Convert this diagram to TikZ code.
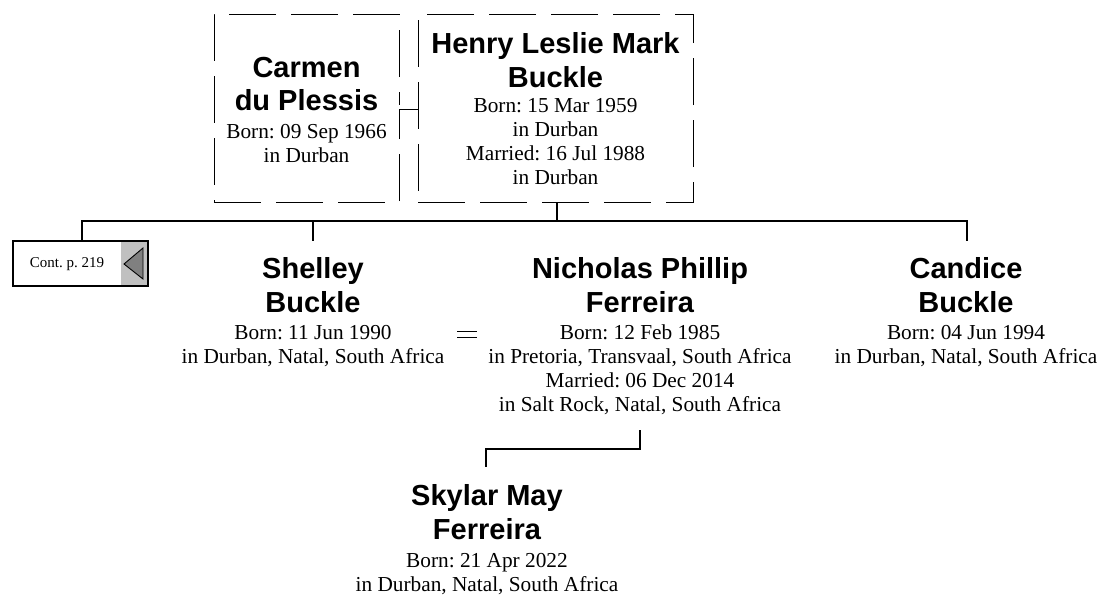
\documentclass[tikz,border=0pt]{standalone}
\usepackage{fontspec}
\setmainfont{Liberation Serif}
\newfontfamily\namesans{Liberation Sans}
\frenchspacing
\newcommand\pname[1]{{\namesans\bfseries\fontsize{29}{34}\selectfont #1}}
\newcommand\pfirst[1]{\rule{0pt}{22pt}\pname{#1}}
\newcommand\personfont{\fontsize{21.3}{24}\selectfont\frenchspacing\lineskiplimit=-1000pt\lineskip=0pt\relax}
\definecolor{contgray}{RGB}{192,192,192}
\definecolor{tridark}{RGB}{128,128,128}
\begin{document}
\begin{tikzpicture}[x=1pt,y=-1pt,
  conn/.style={line width=1.2pt},
  dashbox/.style={draw, line width=0.9pt, dash pattern=on 47pt off 15pt, inner sep=0pt},
  person/.style={align=center, anchor=north, inner sep=0pt, font={\personfont}},
  marriage/.style={double, double distance=3.2pt, line width=0.9pt},
  spouse/.style={double, double distance=4.5pt, line width=1.6pt},
]
\useasboundingbox (0,0) rectangle (1106,595);

% top couple
\node[dashbox, minimum width=185pt, minimum height=188pt] (carmenbox) at (306.5,108) {};
\node[dashbox, minimum width=275pt, minimum height=188pt] (henrybox) at (555.5,108) {};
\node[person] (carmen) at (306.5,55) {\pfirst{Carmen}\\[9pt]\pname{du Plessis}\\[4pt]Born: 09 Sep 1966\\in Durban};
\node[person] (henry) at (555.5,31) {\pfirst{Henry Leslie Mark}\\[10pt]\pname{Buckle}\\[1pt]Born: 15 Mar 1959\\in Durban\\Married: 16 Jul 1988\\in Durban};
\coordinate (mA) at (399.5,107);
\coordinate (mB) at (417.5,107);
\draw[marriage] (carmenbox.east |- mA) -- (henrybox.west |- mB);

% continuation box
\fill[contgray] (121,241) rectangle (148,286);
\node[draw, line width=1.5pt, minimum width=135pt, minimum height=45pt, inner sep=0pt] (cont) at (80.5,263.5) {};
\node[font=\fontsize{15}{18}\selectfont, inner sep=0pt] (contlabel) at (67,264) {Cont. p. 219};
\draw[fill=tridark, line width=0.9pt] (124,264) -- (143,248) -- (143,279) -- cycle;

% children
\node[person] (shelley) at (313,256) {\pfirst{Shelley}\\[10pt]\pname{Buckle}\\[3pt]Born: 11 Jun 1990\\in Durban, Natal, South Africa};
\node[person] (nicholas) at (640,256) {\pfirst{Nicholas Phillip}\\[10pt]\pname{Ferreira}\\[3pt]Born: 12 Feb 1985\\in Pretoria, Transvaal, South Africa\\Married: 06 Dec 2014\\in Salt Rock, Natal, South Africa};
\node[person] (candice) at (966,256) {\pfirst{Candice}\\[10pt]\pname{Buckle}\\[3pt]Born: 04 Jun 1994\\in Durban, Natal, South Africa};
\node[person] (skylar) at (487,483) {\pfirst{Skylar May}\\[10pt]\pname{Ferreira}\\[4pt]Born: 21 Apr 2022\\in Durban, Natal, South Africa};

% family connectors
\coordinate (barL) at (82,221);
\coordinate (barR) at (967,221);
\coordinate (hdrop) at (557,221);
\draw[conn] (hdrop |- henrybox.south) -- (hdrop);
\draw[conn] (barL |- cont.north) -- (barL) -- (barR) -- ([yshift=15pt]candice.north -| barR);
\draw[conn] (shelley.north |- barL) -- ([yshift=15pt]shelley.north);

% Shelley = Nicholas
\coordinate (eqL) at (457,334.5);
\coordinate (eqR) at (477,334.5);
\draw[spouse] (eqL) -- (eqR);

% Nicholas to Skylar
\coordinate (nkid) at (640,430);
\coordinate (sib) at (486,449);
\draw[conn] (nkid) |- (sib) -- ([yshift=16pt]skylar.north -| sib);
\end{tikzpicture}
\end{document}
